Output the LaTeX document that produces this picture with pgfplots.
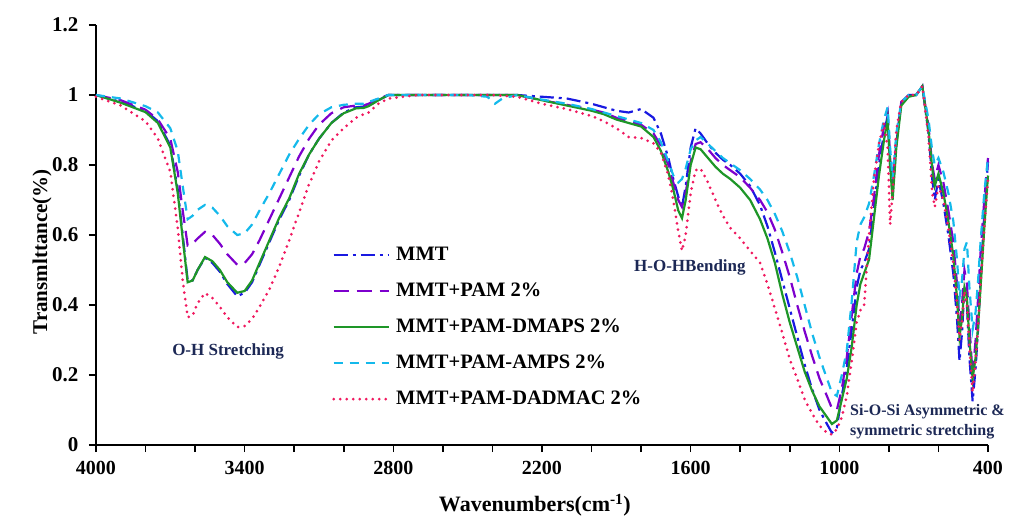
\documentclass[border=0pt]{standalone}
\usepackage{pgfplots}
\pgfplotsset{compat=1.18}
\usepackage{fontspec}
\setmainfont{Liberation Serif}
\definecolor{cMMT}{RGB}{25,25,225}
\definecolor{cPAM}{RGB}{125,0,205}
\definecolor{cDMAPS}{RGB}{30,150,40}
\definecolor{cAMPS}{RGB}{20,185,235}
\definecolor{cDAD}{RGB}{240,25,95}
\definecolor{cNote}{RGB}{28,40,85}
\begin{document}
\begin{tikzpicture}
\useasboundingbox (-96pt,-78pt) rectangle (923pt,445pt);
\begin{axis}[
  at={(0pt,0pt)}, anchor=south west,
  scale only axis, width=892pt, height=420pt,
  xmin=400, xmax=4000, x dir=reverse,
  ymin=0, ymax=1.2,
  clip=false,
  axis x line=bottom, axis y line=left,
  axis line style={-, line width=1.8pt, black},
  xtick={400,1000,1600,2200,2800,3400,4000},
  xticklabels={400,1000,1600,2200,2800,3400,4000},
  minor xtick={600,800,1200,1400,1800,2000,2400,2600,3000,3200,3600,3800},
  ytick={0,0.2,0.4,0.6,0.8,1,1.2},
  yticklabels={0,0.2,0.4,0.6,0.8,1,1.2},
  tick align=outside, major tick length=7pt, minor tick length=7pt,
  tick style={line width=1.5pt, black},
  ticklabel style={font=\fontsize{20}{20}\selectfont\bfseries},
  xticklabel style={yshift=-6pt},
  yticklabel style={xshift=-7pt, font=\fontsize{21}{21}\selectfont\bfseries},
  /pgf/number format/assume math mode=true,
  no markers,
  every axis plot/.append style={line width=2.2pt},
  legend style={at={(0.2646,0.474)}, anchor=north west, draw=none, fill=none,
    inner sep=0pt, row sep=18pt, column sep=6pt,
    nodes={inner sep=0pt, text height=14pt, text depth=4pt},
    font=\fontsize{20.5}{20.5}\selectfont\bfseries},
  legend cell align=left,
  legend image code/.code={\draw[#1] (0pt,0pt) -- (55pt,0pt);},
]
% MMT
\addplot[cMMT, dash pattern=on 14pt off 5pt on 3pt off 5pt] coordinates {
(4000,1.0)(3900,0.98)(3800,0.955)(3750,0.925)(3700,0.855)(3670,0.73)(3650,0.60)(3630,0.47)(3610,0.47)(3590,0.50)(3560,0.535)(3530,0.52)(3500,0.495)(3470,0.46)(3430,0.425)(3400,0.435)(3370,0.465)(3340,0.515)(3300,0.58)(3260,0.645)(3220,0.70)(3180,0.77)(3140,0.83)(3100,0.875)(3050,0.92)(3000,0.95)(2950,0.965)(2920,0.967)(2900,0.97)(2860,0.985)(2820,1.0)(2700,1.0)(2500,1.0)(2400,1.0)(2300,1.0)(2200,0.995)(2100,0.99)(2000,0.975)(1950,0.965)(1900,0.955)(1850,0.95)(1800,0.96)(1750,0.935)(1720,0.89)(1690,0.82)(1670,0.76)(1650,0.71)(1635,0.68)(1620,0.74)(1600,0.85)(1580,0.905)(1560,0.89)(1530,0.86)(1500,0.835)(1470,0.815)(1440,0.80)(1400,0.775)(1360,0.74)(1320,0.685)(1290,0.625)(1260,0.55)(1230,0.47)(1200,0.39)(1170,0.31)(1140,0.23)(1110,0.16)(1080,0.10)(1050,0.06)(1030,0.035)(1010,0.05)(990,0.14)(970,0.22)(950,0.33)(930,0.45)(915,0.50)(900,0.52)(880,0.56)(860,0.68)(840,0.80)(820,0.89)(805,0.94)(795,0.80)(785,0.72)(770,0.86)(750,0.98)(720,1.0)(690,1.0)(665,1.025)(640,0.89)(625,0.76)(615,0.70)(600,0.76)(580,0.69)(560,0.60)(540,0.49)(525,0.36)(515,0.24)(505,0.32)(495,0.45)(485,0.40)(475,0.25)(462,0.125)(450,0.22)(440,0.33)(430,0.47)(415,0.66)(400,0.81)
};
\addlegendentry{MMT}
% PAM
\addplot[cPAM, dash pattern=on 15pt off 8pt] coordinates {
(4000,1.0)(3900,0.985)(3800,0.958)(3750,0.93)(3700,0.875)(3670,0.78)(3650,0.67)(3630,0.57)(3610,0.575)(3590,0.59)(3560,0.609)(3530,0.60)(3500,0.575)(3470,0.545)(3430,0.515)(3400,0.52)(3370,0.545)(3340,0.585)(3300,0.645)(3260,0.705)(3220,0.765)(3180,0.825)(3140,0.875)(3100,0.915)(3050,0.948)(3000,0.965)(2950,0.97)(2920,0.97)(2900,0.975)(2860,0.99)(2820,1.0)(2700,1.0)(2500,1.0)(2400,1.0)(2300,1.0)(2200,0.985)(2100,0.972)(2000,0.958)(1950,0.95)(1900,0.935)(1850,0.925)(1800,0.915)(1750,0.89)(1720,0.855)(1690,0.80)(1670,0.75)(1650,0.70)(1635,0.68)(1620,0.72)(1600,0.81)(1580,0.86)(1560,0.865)(1530,0.845)(1500,0.82)(1470,0.80)(1440,0.785)(1400,0.765)(1360,0.735)(1320,0.70)(1290,0.665)(1260,0.615)(1230,0.55)(1200,0.48)(1170,0.40)(1140,0.325)(1110,0.255)(1080,0.19)(1050,0.14)(1030,0.105)(1010,0.10)(990,0.16)(970,0.25)(950,0.37)(930,0.49)(915,0.54)(900,0.56)(880,0.61)(860,0.71)(840,0.83)(820,0.91)(805,0.95)(795,0.82)(785,0.73)(770,0.87)(750,0.98)(720,1.0)(690,1.0)(665,1.025)(640,0.91)(625,0.80)(615,0.76)(600,0.80)(580,0.75)(560,0.67)(540,0.58)(525,0.46)(515,0.35)(505,0.40)(495,0.50)(485,0.46)(475,0.34)(462,0.20)(450,0.30)(440,0.42)(430,0.55)(415,0.70)(400,0.82)
};
\addlegendentry{MMT+PAM 2\%}
% DMAPS
\addplot[cDMAPS, solid] coordinates {
(4000,1.0)(3900,0.978)(3800,0.951)(3750,0.92)(3700,0.85)(3670,0.72)(3650,0.59)(3630,0.465)(3610,0.47)(3590,0.50)(3560,0.537)(3530,0.525)(3500,0.50)(3470,0.465)(3430,0.435)(3400,0.44)(3370,0.47)(3340,0.52)(3300,0.585)(3260,0.65)(3220,0.705)(3180,0.775)(3140,0.83)(3100,0.875)(3050,0.92)(3000,0.948)(2950,0.962)(2920,0.963)(2900,0.968)(2860,0.985)(2820,1.0)(2700,1.0)(2500,1.0)(2400,1.0)(2300,1.0)(2200,0.985)(2100,0.97)(2000,0.955)(1950,0.945)(1900,0.93)(1850,0.92)(1800,0.91)(1750,0.88)(1720,0.84)(1690,0.78)(1670,0.73)(1650,0.67)(1635,0.648)(1620,0.70)(1600,0.80)(1580,0.85)(1560,0.845)(1530,0.82)(1500,0.795)(1470,0.775)(1440,0.76)(1400,0.735)(1360,0.70)(1320,0.645)(1290,0.59)(1260,0.52)(1230,0.43)(1200,0.35)(1170,0.28)(1140,0.21)(1110,0.155)(1080,0.11)(1050,0.08)(1030,0.06)(1010,0.07)(990,0.13)(970,0.19)(950,0.28)(930,0.40)(915,0.46)(900,0.49)(880,0.53)(860,0.65)(840,0.77)(820,0.87)(805,0.93)(795,0.80)(785,0.70)(770,0.85)(750,0.97)(720,0.995)(690,1.0)(665,1.025)(640,0.90)(625,0.79)(615,0.74)(600,0.775)(580,0.72)(560,0.64)(540,0.54)(525,0.42)(515,0.31)(505,0.36)(495,0.45)(485,0.42)(475,0.30)(462,0.19)(450,0.25)(440,0.34)(430,0.45)(415,0.62)(400,0.77)
};
\addlegendentry{MMT+PAM-DMAPS 2\%}
% AMPS
\addplot[cAMPS, dash pattern=on 9pt off 7pt] coordinates {
(4000,1.0)(3900,0.99)(3800,0.968)(3750,0.95)(3700,0.905)(3670,0.84)(3650,0.74)(3630,0.645)(3610,0.655)(3590,0.672)(3560,0.686)(3530,0.678)(3500,0.655)(3470,0.625)(3430,0.60)(3400,0.605)(3370,0.63)(3340,0.67)(3300,0.72)(3260,0.775)(3220,0.83)(3180,0.875)(3140,0.915)(3100,0.945)(3050,0.965)(3000,0.972)(2950,0.975)(2920,0.975)(2900,0.98)(2860,0.99)(2820,1.0)(2700,1.0)(2500,1.0)(2420,0.995)(2390,0.975)(2360,0.99)(2300,1.0)(2200,0.987)(2100,0.975)(2000,0.96)(1950,0.95)(1900,0.94)(1850,0.93)(1800,0.92)(1750,0.90)(1720,0.865)(1690,0.81)(1670,0.77)(1650,0.75)(1635,0.76)(1620,0.79)(1600,0.845)(1580,0.87)(1560,0.88)(1530,0.86)(1500,0.84)(1470,0.82)(1440,0.805)(1400,0.785)(1360,0.76)(1320,0.73)(1290,0.70)(1260,0.66)(1230,0.61)(1200,0.55)(1170,0.48)(1140,0.40)(1110,0.32)(1080,0.25)(1050,0.19)(1030,0.15)(1010,0.14)(990,0.20)(970,0.27)(950,0.41)(930,0.58)(915,0.63)(900,0.65)(880,0.69)(860,0.77)(840,0.86)(820,0.93)(805,0.965)(795,0.85)(785,0.76)(770,0.89)(750,0.98)(720,1.0)(690,1.0)(665,1.025)(640,0.93)(625,0.84)(615,0.80)(600,0.82)(580,0.78)(560,0.72)(540,0.64)(525,0.53)(515,0.42)(505,0.47)(495,0.56)(485,0.58)(475,0.45)(462,0.33)(450,0.38)(440,0.47)(430,0.58)(415,0.72)(400,0.82)
};
\addlegendentry{MMT+PAM-AMPS 2\%}
% DADMAC
\addplot[cDAD, line width=3pt, line cap=round, dash pattern=on 0pt off 6.5pt] coordinates {
(4000,0.995)(3900,0.97)(3800,0.925)(3750,0.875)(3700,0.78)(3670,0.62)(3650,0.47)(3630,0.365)(3610,0.37)(3590,0.405)(3560,0.434)(3530,0.42)(3500,0.395)(3470,0.365)(3430,0.337)(3400,0.34)(3370,0.36)(3340,0.395)(3300,0.445)(3260,0.51)(3220,0.585)(3180,0.665)(3140,0.745)(3100,0.81)(3050,0.87)(3000,0.905)(2950,0.935)(2920,0.945)(2900,0.95)(2860,0.975)(2820,0.99)(2700,1.0)(2500,1.0)(2400,1.0)(2300,0.995)(2200,0.975)(2100,0.96)(2000,0.94)(1950,0.925)(1900,0.905)(1850,0.88)(1800,0.877)(1750,0.862)(1720,0.835)(1690,0.77)(1670,0.70)(1650,0.61)(1635,0.555)(1620,0.60)(1600,0.72)(1580,0.785)(1560,0.79)(1530,0.75)(1500,0.70)(1470,0.655)(1440,0.62)(1400,0.59)(1360,0.555)(1320,0.52)(1290,0.46)(1260,0.39)(1230,0.32)(1200,0.245)(1170,0.19)(1140,0.13)(1110,0.09)(1080,0.055)(1050,0.035)(1030,0.03)(1010,0.045)(990,0.08)(970,0.14)(950,0.24)(930,0.35)(915,0.385)(900,0.40)(880,0.60)(860,0.76)(840,0.86)(820,0.92)(805,0.85)(795,0.63)(785,0.72)(770,0.90)(750,0.98)(720,1.0)(690,1.0)(665,1.025)(640,0.88)(625,0.72)(615,0.68)(600,0.74)(580,0.70)(560,0.62)(540,0.52)(525,0.40)(515,0.30)(505,0.35)(495,0.44)(485,0.40)(475,0.28)(462,0.15)(450,0.24)(440,0.34)(430,0.46)(415,0.62)(400,0.76)
};
\addlegendentry{MMT+PAM-DADMAC 2\%}
\node[font=\fontsize{17}{17}\selectfont\bfseries, text=cNote] at (axis cs:3467,0.266) {O-H Stretching};
\node[font=\fontsize{17}{17}\selectfont\bfseries, text=cNote] at (axis cs:1603,0.506) {H-O-HBending};
\node[font=\fontsize{16}{20}\selectfont\bfseries, text=cNote, anchor=west, align=left, inner sep=0pt] at (axis cs:957,0.066) {Si-O-Si Asymmetric \&\\symmetric stretching};
\node[font=\fontsize{22}{22}\selectfont\bfseries] at (axis description cs:0.492,-0.143) {Wavenumbers(cm\textsuperscript{-1})};
\node[font=\fontsize{21}{21}\selectfont\bfseries, rotate=90] at (axis description cs:-0.0605,0.46) {Transmlttance(\%)};
\end{axis}
\end{tikzpicture}
\end{document}
